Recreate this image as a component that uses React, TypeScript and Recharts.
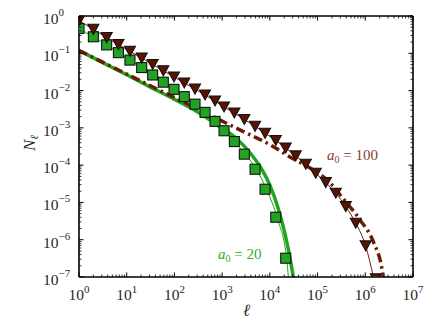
import React from 'react';
import { ComposedChart, Line, Scatter, XAxis, YAxis } from 'recharts';

// ---- data ----
const ellBins = [1, 2, 3.8, 6.7, 11.7, 20.6, 35, 58.5, 98, 161, 270, 438, 710, 1096, 1803, 2918, 4898, 7930, 13300, 21500, 34900, 56600, 91600, 148500, 241000, 390000, 632000, 1020000, 1660000];
const triangleN = [0.748, 0.44, 0.265, 0.172, 0.113, 0.0748, 0.0501, 0.034, 0.0232, 0.016, 0.011, 0.00762, 0.00526, 0.00363, 0.00251, 0.00168, 0.0011, 7.16e-4, 4.59e-4, 2.89e-4, 1.77e-4, 1.06e-4, 6.07e-5, 3.4e-5, 1.77e-5, 7.72e-6, 2.77e-6, 6.82e-7, 9e-8];
const squareN = [0.462, 0.277, 0.168, 0.104, 0.0657, 0.0414, 0.0262, 0.0168, 0.0108, 0.00686, 0.00432, 0.0026, 0.00149, 8.36e-4, 4.29e-4, 1.97e-4, 7.76e-5, 2.26e-5, 4.01e-6, 3.19e-7];

const thinGreenL = [1, 2, 3.8, 6.7, 11.7, 20.6, 35, 58.5, 98, 161, 270, 438, 710, 1100, 1850, 3100, 5300, 8700, 14500, 22600, 24400];
const thinGreenN = [0.462, 0.277, 0.168, 0.104, 0.0657, 0.0414, 0.0262, 0.0168, 0.0108, 0.00686, 0.00432, 0.0026, 0.00149, 8.4e-4, 4.2e-4, 1.9e-4, 7.5e-5, 2.1e-5, 3.6e-6, 2.9e-7, 1e-7];

const thickGreenL = [1, 3, 10, 30, 100, 300, 1000, 2000, 4000, 7000, 10000, 15000, 20000, 25000, 31000];
const thickGreenN = [0.119, 0.058, 0.0265, 0.0128, 0.0058, 0.0027, 0.00097, 5.2e-4, 2.0e-4, 7.2e-5, 2.9e-5, 6.8e-6, 1.75e-6, 4.7e-7, 1e-7];

const dashRedL = [1, 10, 100, 1000, 3000, 10000, 28800, 69700, 183000, 348000, 778000, 1480000, 2220000, 2390000];
const dashRedN = [0.119, 0.0278, 0.0065, 0.00152, 7.6e-4, 3.55e-4, 1.56e-4, 8.4e-5, 3.33e-5, 1.24e-5, 3.4e-6, 8.7e-7, 1.75e-7, 1e-7];

const thinRedL = [1, 2, 3.8, 6.7, 11.7, 20.6, 35, 58.5, 98, 161, 270, 438, 710, 1096, 1803, 2918, 4898, 7930, 13300, 21500, 34900, 56600, 91600, 148500, 241000, 390000, 632000, 1020000, 1480000];
const thinRedN = [0.748, 0.44, 0.265, 0.172, 0.113, 0.0748, 0.0501, 0.034, 0.0232, 0.016, 0.011, 0.00762, 0.00526, 0.00363, 0.00251, 0.00168, 0.0011, 7.16e-4, 4.59e-4, 2.89e-4, 1.77e-4, 1.06e-4, 6.07e-5, 3.4e-5, 1.77e-5, 7.72e-6, 2.77e-6, 6.82e-7, 1e-7];

const xExponents = [0, 1, 2, 3, 4, 5, 6, 7];
const yExponents = [-7, -6, -5, -4, -3, -2, -1, 0];
const minorMantissas = [2, 3, 4, 5, 6, 7, 8, 9];

const xLabel = 'ℓ';
const yLabel = 'N';
const annot100 = { sub: '0', rest: ' = 100' };
const annot20 = { sub: '0', rest: ' = 20' };

// ---- helpers ----
const pairs = (xs: number[], ys: number[]) => xs.map((x, i) => ({ x, y: ys[i] }));
const squares = pairs(ellBins.slice(0, squareN.length), squareN);
const triangles = pairs(ellBins, triangleN);

const buildTicks = (exps: number[]) => {
  const out: number[] = [];
  exps.forEach((e, i) => {
    out.push(Math.pow(10, e));
    if (i < exps.length - 1) minorMantissas.forEach((m) => out.push(m * Math.pow(10, e)));
  });
  return out;
};
const xTicks = buildTicks(xExponents);
const yTicks = buildTicks(yExponents);

const FONT = "'Liberation Serif', 'DejaVu Serif', serif";
const GREEN = '#22a322';
const GREEN_LINE = '#1ea41e';
const BROWN = '#5a1300';
const BROWN_LINE = '#6b1c06';
const TXT = '#2a2a2a';

const isMajor = (v: number) => {
  const l = Math.log10(v);
  return Math.abs(l - Math.round(l)) < 1e-6;
};
const expStr = (v: number) => String(Math.round(Math.log10(v))).replace('-', '\u2212');

const MAJ = 4.5;
const MIN = 2.5;

const BottomTick = (p: any) => {
  const { x, y, payload } = p;
  const v = payload.value;
  const major = isMajor(v);
  return (
    <g>
      <line x1={x} x2={x} y1={y} y2={y - (major ? MAJ : MIN)} stroke="#000" strokeWidth={major ? 1 : 0.8} />
      {major && (
        <text x={x} y={y + 23} textAnchor="middle" fontFamily={FONT} fontSize={15.5} fill={TXT}>
          <tspan>10</tspan>
          <tspan dy={-7} fontSize={11}>{expStr(v)}</tspan>
        </text>
      )}
    </g>
  );
};
const TopTick = (p: any) => {
  const { x, y, payload } = p;
  const major = isMajor(payload.value);
  return <line x1={x} x2={x} y1={y} y2={y + (major ? MAJ : MIN)} stroke="#000" strokeWidth={major ? 1 : 0.8} />;
};
const LeftTick = (p: any) => {
  const { x, y, payload } = p;
  const v = payload.value;
  const major = isMajor(v);
  return (
    <g>
      <line x1={x} x2={x + (major ? MAJ : MIN)} y1={y} y2={y} stroke="#000" strokeWidth={major ? 1 : 0.8} />
      {major && (
        <text x={x - 36} y={y + 8} textAnchor="start" fontFamily={FONT} fontSize={15.5} fill={TXT}>
          <tspan>10</tspan>
          <tspan dy={-8} fontSize={11}>{expStr(v)}</tspan>
        </text>
      )}
    </g>
  );
};
const RightTick = (p: any) => {
  const { x, y, payload } = p;
  const major = isMajor(payload.value);
  return <line x1={x} x2={x - (major ? MAJ : MIN)} y1={y} y2={y} stroke="#000" strokeWidth={major ? 1 : 0.8} />;
};

const SquareShape = (p: any) => {
  const { cx, cy } = p;
  if (cx == null || cy == null) return <g />;
  return <rect x={cx - 5} y={cy - 5} width={10} height={10} fill={GREEN} stroke="#111" strokeWidth={1.1} />;
};
const TriangleShape = (p: any) => {
  const { cx, cy } = p;
  if (cx == null || cy == null) return <g />;
  return (
    <polygon
      points={`${cx - 5.5},${cy - 5} ${cx + 5.5},${cy - 5} ${cx},${cy + 5}`}
      fill={BROWN}
      stroke="#111"
      strokeWidth={1.1}
      strokeLinejoin="miter"
    />
  );
};

const axisLine = { stroke: '#000', strokeWidth: 1.6 };

export default function App() {
  return (
    <div style={{ position: 'absolute', left: 0, top: 0, width: 436, height: 327, background: '#fff' }}>
      <ComposedChart width={436} height={327} margin={{ top: 0, right: 0, bottom: 0, left: 0 }}>
        <XAxis
          xAxisId="b"
          dataKey="x"
          type="number"
          scale="log"
          domain={[1, 1e7]}
          allowDataOverflow
          ticks={xTicks}
          interval={0}
          height={50}
          tickSize={0}
          tickMargin={0}
          tickLine={false}
          axisLine={axisLine}
          tick={<BottomTick />}
        />
        <XAxis
          xAxisId="t"
          dataKey="x"
          orientation="top"
          type="number"
          scale="log"
          domain={[1, 1e7]}
          allowDataOverflow
          ticks={xTicks}
          interval={0}
          height={16}
          tickSize={0}
          tickMargin={0}
          tickLine={false}
          axisLine={axisLine}
          tick={<TopTick />}
        />
        <YAxis
          yAxisId="l"
          dataKey="y"
          type="number"
          scale="log"
          domain={[1e-7, 1]}
          allowDataOverflow
          ticks={yTicks}
          interval={0}
          width={79}
          tickSize={0}
          tickMargin={0}
          tickLine={false}
          axisLine={axisLine}
          tick={<LeftTick />}
        />
        <YAxis
          yAxisId="r"
          dataKey="y"
          orientation="right"
          type="number"
          scale="log"
          domain={[1e-7, 1]}
          allowDataOverflow
          ticks={yTicks}
          interval={0}
          width={23}
          tickSize={0}
          tickMargin={0}
          tickLine={false}
          axisLine={axisLine}
          tick={<RightTick />}
        />
        <Line
          xAxisId="b"
          yAxisId="l"
          data={pairs(thickGreenL, thickGreenN)}
          dataKey="y"
          type="monotone"
          stroke={GREEN_LINE}
          strokeWidth={3.5}
          dot={false}
          activeDot={false}
          isAnimationActive={false}
        />
        <Line
          xAxisId="b"
          yAxisId="l"
          data={pairs(dashRedL, dashRedN)}
          dataKey="y"
          type="monotone"
          stroke={BROWN_LINE}
          strokeWidth={3.5}
          strokeDasharray="9 4 2.5 4"
          dot={false}
          activeDot={false}
          isAnimationActive={false}
        />
        <Line
          xAxisId="b"
          yAxisId="l"
          data={pairs(thinGreenL, thinGreenN)}
          dataKey="y"
          type="monotone"
          stroke={GREEN_LINE}
          strokeWidth={1}
          dot={false}
          activeDot={false}
          isAnimationActive={false}
        />
        <Line
          xAxisId="b"
          yAxisId="l"
          data={pairs(thinRedL, thinRedN)}
          dataKey="y"
          type="monotone"
          stroke={BROWN_LINE}
          strokeWidth={1}
          dot={false}
          activeDot={false}
          isAnimationActive={false}
        />
        <Scatter xAxisId="b" yAxisId="l" data={squares} dataKey="y" shape={SquareShape} isAnimationActive={false} />
        <Scatter xAxisId="b" yAxisId="l" data={triangles} dataKey="y" shape={TriangleShape} isAnimationActive={false} />
      </ComposedChart>
      <svg
        width={436}
        height={327}
        style={{ position: 'absolute', left: 0, top: 0, pointerEvents: 'none' }}
      >
        <text x={246.5} y={316} textAnchor="middle" fontFamily={FONT} fontSize={17} fontStyle="italic" fill={TXT}>
          {xLabel}
        </text>
        <text
          x={35}
          y={143}
          transform="rotate(-90 35 143)"
          textAnchor="middle"
          fontFamily={FONT}
          fontSize={17}
          fill={TXT}
        >
          <tspan fontStyle="italic">{yLabel}</tspan>
          <tspan fontSize={11} dy={3} fontStyle="italic">{xLabel}</tspan>
        </text>
        <text x={327} y={160} fontFamily={FONT} fontSize={15} fill="#8a3e2c">
          <tspan fontStyle="italic">a</tspan>
          <tspan fontSize={10} dy={3}>{annot100.sub}</tspan>
          <tspan dy={-3}>{annot100.rest}</tspan>
        </text>
        <text x={218} y={258.5} fontFamily={FONT} fontSize={15} fill="#33aa33">
          <tspan fontStyle="italic">a</tspan>
          <tspan fontSize={10} dy={3}>{annot20.sub}</tspan>
          <tspan dy={-3}>{annot20.rest}</tspan>
        </text>
      </svg>
    </div>
  );
}
